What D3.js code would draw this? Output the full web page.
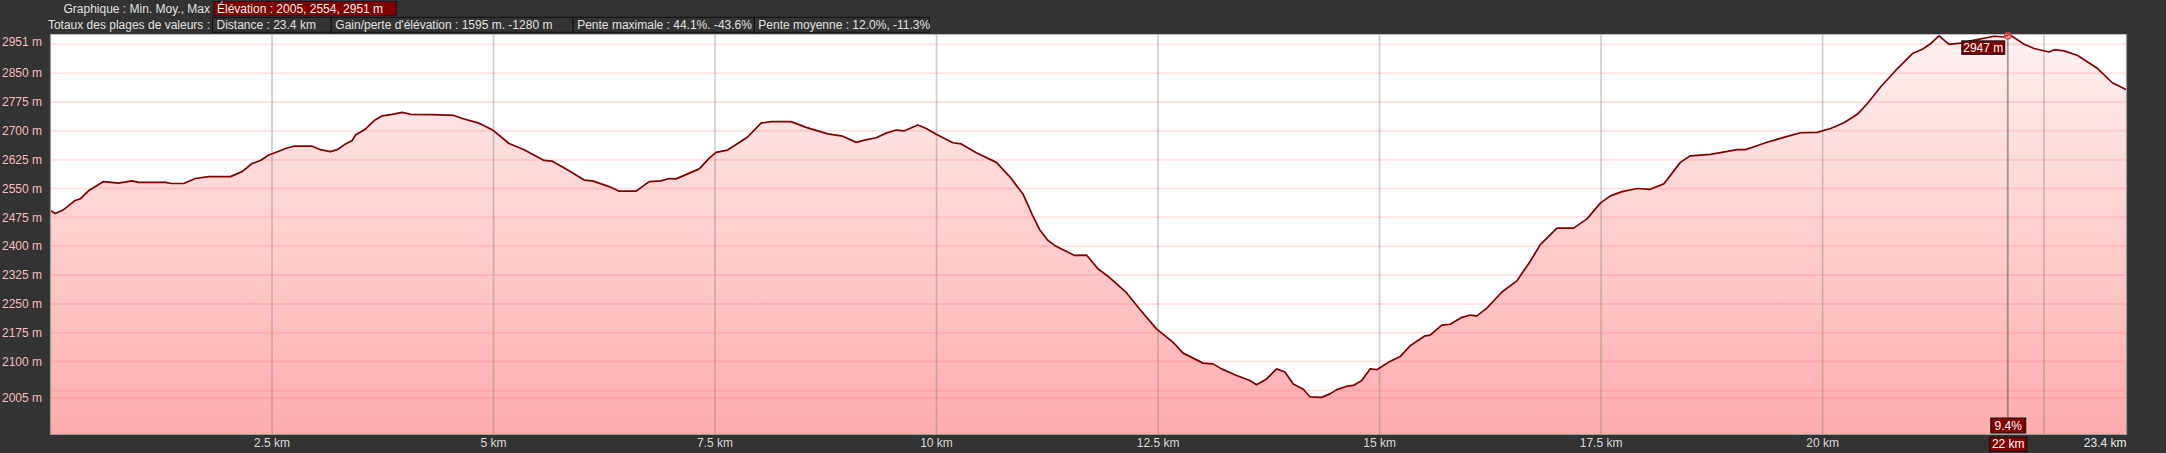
<!DOCTYPE html>
<html><head><meta charset="utf-8">
<script src="https://cdn.jsdelivr.net/npm/d3@7"></script>
<style>html,body{margin:0;padding:0;background:#333;overflow:hidden}text{font-family:"Liberation Sans",Arial,sans-serif;font-size:12px}</style>
</head><body><svg id="c" width="2166" height="453"></svg>
<script>
// ---- data ----
const distKm = [0,0.053,0.147,0.279,0.336,0.429,0.599,0.768,0.919,0.994,1.296,1.371,1.503,1.635,1.785,2.031,2.162,2.275,2.369,2.463,2.576,2.652,2.746,2.953,3.047,3.160,3.235,3.330,3.405,3.443,3.556,3.650,3.744,3.856,3.969,4.064,4.308,4.554,4.647,4.836,4.986,5.175,5.345,5.571,5.664,5.853,6.023,6.116,6.305,6.418,6.607,6.757,6.889,6.983,7.059,7.322,7.435,7.511,7.642,7.868,8.019,8.132,8.358,8.528,8.772,8.941,9.093,9.186,9.319,9.431,9.544,9.638,9.789,9.884,9.997,10.184,10.279,10.449,10.675,10.825,10.975,11.088,11.164,11.258,11.333,11.427,11.559,11.692,11.823,11.935,12.143,12.294,12.482,12.670,12.783,13.009,13.122,13.217,13.386,13.537,13.612,13.725,13.838,13.932,14.026,14.139,14.215,14.347,14.441,14.516,14.629,14.704,14.799,14.893,14.968,15.099,15.232,15.345,15.514,15.571,15.703,15.797,15.929,16.023,16.098,16.211,16.381,16.550,16.701,16.814,17.002,17.190,17.341,17.492,17.605,17.737,17.906,18.056,18.207,18.302,18.395,18.508,18.734,19.036,19.130,19.243,19.356,19.563,19.751,19.940,20.090,20.241,20.392,20.506,20.655,20.845,21.014,21.127,21.220,21.314,21.427,21.559,21.672,21.935,22.048,22.105,22.275,22.388,22.557,22.613,22.726,22.878,23.104,23.270,23.430];
const elevM = [2493,2485,2495,2519,2523,2544,2568,2564,2570,2566,2566,2563,2563,2576,2581,2581,2594,2615,2623,2637,2647,2654,2660,2660,2651,2646,2651,2666,2675,2689,2705,2726,2739,2743,2748,2743,2742,2740,2732,2720,2703,2667,2651,2623,2621,2596,2572,2570,2555,2543,2543,2568,2570,2576,2575,2601,2629,2644,2650,2684,2720,2724,2724,2709,2692,2686,2670,2676,2682,2694,2702,2700,2715,2706,2691,2669,2666,2643,2618,2581,2536,2478,2443,2415,2402,2391,2376,2377,2341,2322,2279,2236,2185,2150,2122,2096,2094,2081,2064,2051,2040,2055,2081,2073,2042,2028,2008,2007,2016,2027,2036,2038,2051,2081,2079,2098,2113,2141,2167,2169,2195,2197,2215,2221,2219,2239,2281,2310,2361,2404,2447,2447,2471,2512,2531,2542,2550,2548,2562,2590,2618,2635,2639,2651,2651,2660,2669,2683,2695,2696,2706,2721,2743,2771,2814,2862,2901,2912,2927,2947,2925,2928,2934,2946,2944,2951,2925,2914,2905,2911,2908,2896,2862,2825,2807];

const xGridKm = [2.5,5,7.5,10,12.5,15,17.5,20,22.5];
const xLabelKm = [2.5,5,7.5,10,12.5,15,17.5,20];
const xLabelText = ["2.5 km","5 km","7.5 km","10 km","12.5 km","15 km","17.5 km","20 km"];
const xEndLabel = "23.4 km";
const yGridM = [2005,2025,2100,2175,2250,2325,2400,2475,2550,2625,2700,2775,2850,2925];
const yLabelM = [2005,2100,2175,2250,2325,2400,2475,2550,2625,2700,2775,2850,2951];
const yMin = 2005, yMax = 2951, xMax = 23.43;

const headerTitle = "Graphique : Min. Moy., Max";
const headerElev = "Élévation : 2005, 2554, 2951 m";
const totalsTitle = "Totaux des plages de valeurs :";
const totalsItems = ["Distance : 23.4 km","Gain/perte d'élévation : 1595 m. -1280 m","Pente maximale : 44.1%. -43.6%","Pente moyenne : 12.0%, -11.3%"];
const hoverKm = 22.09, hoverElev = 2947, hoverSlope = "9.4%", hoverDist = "22 km";

// ---- layout ----
const svg = d3.select("#c");
const L = 50.5, R = 2126.5, T = 34.3, B = 434.5;
const pad = (yMax - yMin) * 0.1;
const x = d3.scaleLinear().domain([0, xMax]).range([L, R]);
const y = d3.scaleLinear().domain([yMin - pad, yMax]).range([B, T]);

const defs = svg.append("defs");
const g = defs.append("linearGradient").attr("id","fillg").attr("gradientUnits","userSpaceOnUse")
  .attr("x1",0).attr("y1",T).attr("x2",0).attr("y2",B);
g.append("stop").attr("offset","0").attr("stop-color","#fff1f1");
g.append("stop").attr("offset","1").attr("stop-color","#ffacac");
defs.append("clipPath").attr("id","clip").append("rect").attr("x",L).attr("y",T).attr("width",R-L).attr("height",B-T);

svg.append("rect").attr("x",L).attr("y",T).attr("width",R-L).attr("height",B-T).attr("fill","#fff");

const pts = distKm.map((d,i)=>[d, elevM[i]]);
const plot = svg.append("g").attr("clip-path","url(#clip)");
plot.append("path").datum(pts)
  .attr("d", d3.area().x(d=>x(d[0])).y0(B).y1(d=>y(d[1])))
  .attr("fill","url(#fillg)");

// grid
plot.selectAll(".hg").data(yGridM).join("line")
  .attr("x1",L).attr("x2",R).attr("y1",d=>y(d)).attr("y2",d=>y(d))
  .attr("stroke","rgba(255,95,95,0.17)").attr("stroke-width",2);
plot.selectAll(".vg").data(xGridKm).join("line")
  .attr("x1",d=>x(d)).attr("x2",d=>x(d)).attr("y1",T).attr("y2",B)
  .attr("stroke","rgba(120,120,120,0.38)").attr("stroke-width",1.6);
// hover line
plot.append("line").attr("x1",x(hoverKm)).attr("x2",x(hoverKm)).attr("y1",T).attr("y2",B)
  .attr("stroke","rgba(90,90,90,0.55)").attr("stroke-width",1.8);

plot.append("path").datum(pts)
  .attr("d", d3.line().x(d=>x(d[0])).y(d=>y(d[1])))
  .attr("fill","none").attr("stroke","#800000").attr("stroke-width",1.7).attr("stroke-linejoin","round");

// frame
svg.append("path").attr("d",`M${L},${T}V${B}H${R}V${T}`).attr("fill","none").attr("stroke","#9a9a9a").attr("stroke-width",1.2);

// y labels
svg.selectAll(".yl").data(yLabelM).join("text")
  .attr("x",2).attr("y",d=>Math.max(y(d), T+7)).attr("dy","0.35em")
  .attr("fill","#f2bcbc").text(d=>d+" m");

// x labels
svg.selectAll(".xl").data(xLabelKm).join("text")
  .attr("x",d=>x(d)).attr("y",443).attr("dy","0.35em").attr("text-anchor","middle")
  .attr("fill","#d8d8d8").text((d,i)=>xLabelText[i]);
svg.append("text").attr("x",R).attr("y",443).attr("dy","0.35em").attr("text-anchor","end")
  .attr("fill","#e8e8e8").text(xEndLabel);

// header
svg.append("text").attr("x",210).attr("y",9).attr("dy","0.35em").attr("text-anchor","end").attr("fill","#e0e0e0").text(headerTitle);
svg.append("rect").attr("x",213.4).attr("y",1.5).attr("width",183).attr("height",14).attr("fill","#800000").attr("stroke","#1a1a1a").attr("stroke-width",1);
svg.append("text").attr("x",217).attr("y",8.7).attr("dy","0.35em").attr("fill","#f0f0f0").text(headerElev);

svg.append("text").attr("x",210).attr("y",25).attr("dy","0.35em").attr("text-anchor","end").attr("fill","#e0e0e0").text(totalsTitle);
const boxEdges = [212.5,331.3,573.2,754.3,929.3];
totalsItems.forEach((t,i)=>{
  svg.append("rect").attr("x",boxEdges[i]).attr("y",17.3).attr("width",boxEdges[i+1]-boxEdges[i]).attr("height",15)
    .attr("fill","#333").attr("stroke","#111").attr("stroke-width",1);
  svg.append("text").attr("x",boxEdges[i]+4).attr("y",25).attr("dy","0.35em").attr("fill","#e0e0e0").text(t);
});

// hover marks
const hx = x(hoverKm), hy = y(hoverElev);
svg.append("circle").attr("cx",hx).attr("cy",hy).attr("r",3.2).attr("fill","rgba(255,120,120,0.35)").attr("stroke","#e43c3c").attr("stroke-width",1.2);
function tag(cx, anchor, top, w, h, txt){
  const x0 = anchor==="end" ? cx - w : cx - w/2;
  svg.append("rect").attr("x",x0).attr("y",top).attr("width",w).attr("height",h).attr("fill","#800000").attr("stroke","#111").attr("stroke-width",1);
  svg.append("text").attr("x",x0+w/2).attr("y",top+h/2).attr("dy","0.35em").attr("text-anchor","middle").attr("fill","#fff").text(txt);
}
tag(hx-3, "end", hy+5, 43, 13.5, hoverElev+" m");
tag(hx+0.5, "middle", 418, 35, 15, hoverSlope);
tag(hx+0.5, "middle", 437, 37, 14.5, hoverDist);
</script></body></html>
